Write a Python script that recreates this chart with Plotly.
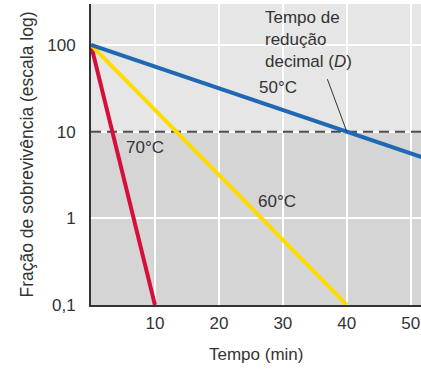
import numpy as np
import plotly.graph_objects as go

# Data (time in min, survival fraction)
t_70 = [0, 10]
v_70 = [100, 0.1]
t_60 = [0, 40]
v_60 = [100, 0.1]
t_50 = [0, 40, 52]
v_50 = [100, 10, 5.0]
d_threshold = 10          # one decimal reduction from 100
d_time_50 = 40            # D value at 50 °C

x_ticks = [10, 20, 30, 40, 50]
y_ticks = [0.1, 1, 10, 100]
y_ticktext = ["0,1", "1", "10", "100"]

FONT = "Liberation Sans, Arial, sans-serif"
TXT = "#333333"

y_lo, y_hi = -1, 2.473
x_lo, x_hi = 0, 51.6

fig = go.Figure()

# dashed threshold line (drawn first, under the curves)
fig.add_trace(go.Scatter(x=[x_lo, x_hi], y=[d_threshold, d_threshold], mode="lines",
                         line=dict(color="#4a4a4a", width=2, dash="10px,6px"),
                         showlegend=False, hoverinfo="skip"))
fig.add_trace(go.Scatter(x=t_70, y=v_70, mode="lines",
                         line=dict(color="#d4103a", width=4), showlegend=False, hoverinfo="skip"))
fig.add_trace(go.Scatter(x=t_60, y=v_60, mode="lines",
                         line=dict(color="#ffdc00", width=4), showlegend=False, hoverinfo="skip"))
fig.add_trace(go.Scatter(x=t_50, y=v_50, mode="lines",
                         line=dict(color="#1f68b3", width=4), showlegend=False, hoverinfo="skip"))

# darker background below the threshold
fig.add_shape(type="rect", xref="x domain", x0=0, x1=1, yref="y",
              y0=10 ** y_lo, y1=d_threshold, fillcolor="#d6d5d5",
              line=dict(width=0), layer="below")

fig.add_annotation(x=8.5, y=np.log10(6.5), text="70°C", showarrow=False,
                   font=dict(family=FONT, size=17, color=TXT))
fig.add_annotation(x=29.1, y=np.log10(1.55), text="60°C", showarrow=False,
                   font=dict(family=FONT, size=17, color=TXT))
fig.add_annotation(x=29.2, y=np.log10(32), text="50°C", showarrow=False,
                   font=dict(family=FONT, size=17, color=TXT))
fig.add_annotation(x=26.9, y=np.log10(285), xanchor="left", yanchor="top", align="left",
                   text="Tempo de<br>redução<br>decimal (<i>D</i>)", showarrow=False,
                   font=dict(family=FONT, size=17, color=TXT))
fig.add_annotation(x=d_time_50, y=np.log10(d_threshold), text="", showarrow=True,
                   arrowhead=0, arrowwidth=1, arrowcolor="#333333", ax=-20, ay=-54)

# axis titles
fig.add_annotation(xref="paper", yref="paper", x=-0.194, y=0.5, textangle=-90,
                   xanchor="center", yanchor="middle",
                   text="Fração de sobrevivência (escala log)", showarrow=False,
                   font=dict(family=FONT, size=17.5, color=TXT))
fig.add_annotation(xref="paper", yref="paper", x=0.5, y=-0.166,
                   xanchor="center", yanchor="middle",
                   text="Tempo (min)", showarrow=False,
                   font=dict(family=FONT, size=17, color=TXT))

fig.update_xaxes(range=[x_lo, x_hi], tickvals=x_ticks, showgrid=True, gridcolor="white",
                 gridwidth=2, zeroline=False, showline=True, linecolor="#333333", linewidth=2,
                 ticks="", ticklabelstandoff=2,
                 tickfont=dict(family=FONT, size=17, color=TXT))
fig.update_yaxes(type="log", range=[y_lo, y_hi], tickvals=y_ticks, ticktext=y_ticktext,
                 showgrid=True, gridcolor="white", gridwidth=2, zeroline=False,
                 showline=True, linecolor="#333333", linewidth=2, ticks="",
                 ticklabelstandoff=10,
                 tickfont=dict(family=FONT, size=17, color=TXT))

fig.update_layout(width=421, height=371, margin=dict(l=91, r=0, t=4, b=66),
                  plot_bgcolor="#e6e6e6", paper_bgcolor="white",
                  font=dict(family=FONT, color=TXT))

fig.write_html("out.html", config={"displayModeBar": False},
               post_script="document.body.style.margin='0';")
